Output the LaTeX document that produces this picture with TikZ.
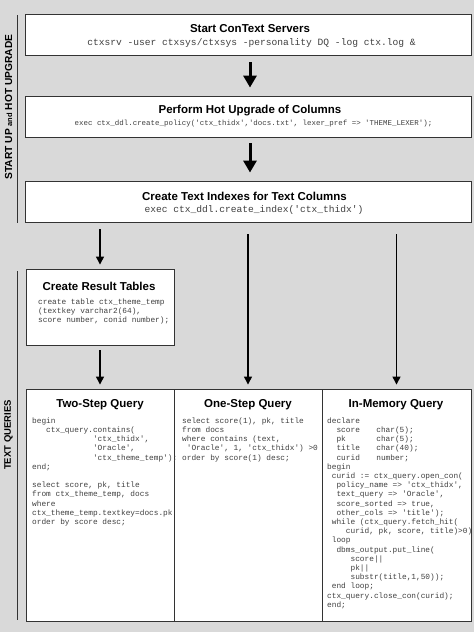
\documentclass[tikz,border=0pt]{standalone}
\usepackage{fontspec}
\setsansfont{Liberation Sans}
\setmonofont{Liberation Mono}
\usetikzlibrary{positioning,calc,arrows.meta}

\tikzset{
  stepbox/.style={draw=black!80, line width=0.9pt, fill=white, inner sep=0pt},
  head/.style={font=\sffamily\bfseries\fontsize{11.5}{13}\selectfont},
  cmd/.style={font=\ttfamily\fontsize{9.6}{11}\selectfont, text=black!75, inner sep=0pt},
  code/.style={font=\ttfamily\fontsize{7.8}{9.2}\selectfont, text=black!75, align=left, anchor=north west, inner sep=0pt},
  side/.style={font=\sffamily\bfseries\fontsize{9.5}{11}\selectfont, rotate=90},
  bigarrow/.style={line width=3pt, -{Triangle[width=13pt,length=12pt]}},
  thinarrow/.style={line width=1.3pt, -{Triangle[width=8pt,length=8pt]}},
}
\newcommand{\ind}[1]{\hspace*{#1\dimexpr0.6em\relax}}

\begin{document}
\begin{tikzpicture}[x=1pt, y=-1pt]
    \useasboundingbox (0,0) rectangle (474,632);
    \fill[black!15] (0,0) rectangle (474,632);

    % Start up and hot upgrade
    \begin{scope}
        \draw[line width=1pt, black!80] (17,15) -- (17,223);
        \node[side, font=\sffamily\bfseries\fontsize{10.2}{12}\selectfont] (sideA) at (8.5,107) {START UP {\fontsize{7.5}{8}\selectfont and} HOT UPGRADE};

        \node[stepbox, minimum width=446pt, minimum height=41pt] (start) at (248,34.5) {};
        \node[head] (startT) at (250,29) {Start ConText Servers};
        \node[cmd] (startC) at (251.5,43) {ctxsrv -user ctxsys/ctxsys -personality DQ -log ctx.log \&};

        \node[stepbox, minimum width=446pt, minimum height=41pt] (upgrade) at (248,116.5) {};
        \node[head] (upgradeT) at (250,111) {Perform Hot Upgrade of Columns};
        \node[cmd, font=\ttfamily\fontsize{7.45}{9}\selectfont] (upgradeC) at (253.5,124) {exec ctx\_ddl.create\_policy('ctx\_thidx','docs.txt', lexer\_pref => 'THEME\_LEXER');};

        \node[stepbox, minimum width=446pt, minimum height=41pt] (index) at (248,201.5) {};
        \node[head] (indexT) at (244.5,196) {Create Text Indexes for Text Columns};
        \node[cmd] (indexC) at (254,210) {exec ctx\_ddl.create\_index('ctx\_thidx')};

        \draw[bigarrow] ($(start.south)+(2,7)$) -- ($(upgrade.north)+(2,-8)$);
        \draw[bigarrow] ($(upgrade.south)+(2,6)$) -- ($(index.north)+(2,-8)$);
    \end{scope}

    % Text queries
    \begin{scope}
        \draw[line width=1pt, black!80] (17,271) -- (17,620);
        \node[side] (sideB) at (8.5,435) {TEXT QUERIES};

        \node[stepbox, minimum width=148pt, minimum height=76pt] (result) at (100,307) {};
        \node[head] (resultT) at (99,286) {Create Result Tables};
        \node[code] (resultC) at (38,298.5) {create table ctx\_theme\_temp\\(textkey varchar2(64),\\score number, conid number);};

        \node[stepbox, minimum width=148pt, minimum height=232pt] (two) at (100,505) {};
        \node[stepbox, minimum width=148pt, minimum height=232pt] (one) at (248,505) {};
        \node[stepbox, minimum width=149pt, minimum height=232pt] (mem) at (396.5,505) {};

        \node[head] (twoT) at (100,405) {Two-Step Query};
        \node[head] (oneT) at (248,405) {One-Step Query};
        \node[head] (memT) at (396,405) {In-Memory Query};

        \node[code] (twoC) at (32,417.5) {begin\\
\ind{3}ctx\_query.contains(\\
\ind{13}'ctx\_thidx',\\
\ind{13}'Oracle',\\
\ind{13}'ctx\_theme\_temp');\\
end;\\
\mbox{}\\
select score, pk, title\\
from ctx\_theme\_temp, docs\\
where\\
ctx\_theme\_temp.textkey=docs.pk\\
order by score desc;};

        \node[code] (oneC) at (182,417.5) {select score(1), pk, title\\
from docs\\
where contains (text,\\
\ind{1}'Oracle', 1, 'ctx\_thidx') >0\\
order by score(1) desc;};

        \node[code] (memC) at (327,417.5) {declare\\
\ind{2}score\ind{3.5}char(5);\\
\ind{2}pk\ind{6.5}char(5);\\
\ind{2}title\ind{3.5}char(40);\\
\ind{2}curid\ind{3.5}number;\\
begin\\
\ind{1}curid := ctx\_query.open\_con(\\
\ind{2}policy\_name => 'ctx\_thidx',\\
\ind{2}text\_query => 'Oracle',\\
\ind{2}score\_sorted => true,\\
\ind{2}other\_cols => 'title');\\
\ind{1}while (ctx\_query.fetch\_hit(\\
\ind{4}curid, pk, score, title)>0)\\
\ind{1}loop\\
\ind{2}dbms\_output.put\_line(\\
\ind{5}score||\\
\ind{5}pk||\\
\ind{5}substr(title,1,50));\\
\ind{1}end loop;\\
ctx\_query.close\_con(curid);\\
end;};

        \draw[thinarrow] ($(index.south -| result)+(0,7)$) -- ($(result.north)+(0,-4)$);
        \draw[thinarrow] ($(result.south)+(0,5)$) -- ($(two.north)+(0,-4)$);
        \draw[thinarrow] ($(index.south -| one)+(0,12)$) -- ($(one.north)+(0,-4)$);
        \draw[thinarrow] ($(index.south -| mem)+(0,12)$) -- ($(mem.north)+(0,-4)$);
    \end{scope}
\end{tikzpicture}
\end{document}
